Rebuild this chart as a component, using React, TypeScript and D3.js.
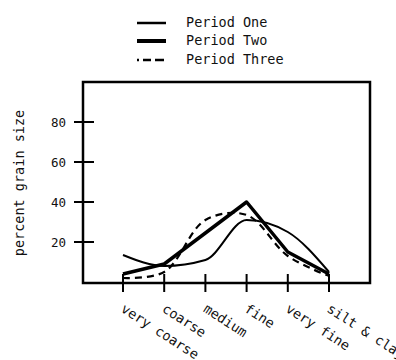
import React, { useEffect, useRef } from 'react';
import * as d3 from 'd3';

// grain size classes along the bottom
const categories = ['very coarse', 'coarse', 'medium', 'fine', 'very fine', 'silt & clay'];

// percent grain size per period
const periodOne = [13.5, 8, 11, 31, 25, 5];
const periodTwo = [4, 9, 24.5, 40, 15, 4];
const periodThree = [2, 5, 31, 33.5, 13, 3];

const yTicks = [20, 40, 60, 80];
const legendLabels = ['Period One', 'Period Two', 'Period Three'];

const FONT = '"DejaVu Sans Mono", monospace';

export default function App() {
    const ref = useRef<SVGSVGElement>(null);

    useEffect(() => {
        const svg = d3.select(ref.current);
        svg.selectAll('*').remove();

        const left = 83, right = 370, top = 82, bottom = 282;

        const x = d3.scalePoint<string>()
            .domain(categories)
            .range([123, 329]);

        const y = d3.scaleLinear()
            .domain([0, 100])
            .range([bottom, top]);

        // frame
        svg.append('rect')
            .attr('x', left)
            .attr('y', top)
            .attr('width', right - left)
            .attr('height', bottom - top + 1)
            .attr('fill', 'none')
            .attr('stroke', '#000')
            .attr('stroke-width', 2.5);

        // y ticks, crossing the axis
        const yg = svg.append('g');
        yg.selectAll('line')
            .data(yTicks)
            .enter()
            .append('line')
            .attr('x1', left - 9)
            .attr('x2', left + 11)
            .attr('y1', d => y(d))
            .attr('y2', d => y(d))
            .attr('stroke', '#000')
            .attr('stroke-width', 2);
        yg.selectAll('text')
            .data(yTicks)
            .enter()
            .append('text')
            .attr('x', 66)
            .attr('y', d => y(d) + 5)
            .attr('text-anchor', 'end')
            .attr('font-family', FONT)
            .attr('font-size', 12.5)
            .attr('fill', '#111')
            .text(d => d);

        // y title
        svg.append('text')
            .attr('transform', 'translate(24, 183) rotate(-90)')
            .attr('text-anchor', 'middle')
            .attr('font-family', FONT)
            .attr('font-size', 13.5)
            .attr('fill', '#111')
            .text('percent grain size');

        // x ticks
        const xg = svg.append('g');
        xg.selectAll('line')
            .data(categories)
            .enter()
            .append('line')
            .attr('x1', d => x(d)!)
            .attr('x2', d => x(d)!)
            .attr('y1', bottom - 8)
            .attr('y2', bottom + 10)
            .attr('stroke', '#000')
            .attr('stroke-width', 2);
        xg.selectAll('text')
            .data(categories)
            .enter()
            .append('text')
            .attr('transform', d => 'translate(' + (x(d)! - 3) + ', 311) rotate(33)')
            .attr('font-family', FONT)
            .attr('font-size', 13.5)
            .attr('fill', '#111')
            .text(d => d);

        // lines: thin one is a smooth curve, the other two are drawn more angular
        const smooth = d3.line<number>()
            .x((d, i) => x(categories[i])!)
            .y(d => y(d))
            .curve(d3.curveMonotoneX);
        const angular = d3.line<number>()
            .x((d, i) => x(categories[i])!)
            .y(d => y(d))
            .curve(d3.curveCatmullRom.alpha(0.5));

        const series = [
            { values: periodOne, width: 2, dash: null, gen: smooth },
            { values: periodTwo, width: 3.5, dash: null, gen: d3.line<number>().x((d, i) => x(categories[i])!).y(d => y(d)) },
            { values: periodThree, width: 2.2, dash: '7,5', gen: angular }
        ];

        svg.selectAll('.series')
            .data(series)
            .enter()
            .append('path')
            .attr('class', 'series')
            .attr('d', d => d.gen(d.values))
            .attr('fill', 'none')
            .attr('stroke', '#000')
            .attr('stroke-width', d => d.width)
            .attr('stroke-linejoin', 'round')
            .attr('stroke-dasharray', d => d.dash);

        // legend
        const lg = svg.append('g');
        const legendY = [23, 41, 60];
        lg.selectAll('line')
            .data(series)
            .enter()
            .append('line')
            .attr('x1', 137)
            .attr('x2', 166)
            .attr('y1', (d, i) => legendY[i])
            .attr('y2', (d, i) => legendY[i])
            .attr('stroke', '#000')
            .attr('stroke-width', (d, i) => i === 1 ? 4 : 2.5)
            .attr('stroke-dasharray', d => d.dash ? '2,4,8,4,9' : null);
        lg.selectAll('text')
            .data(legendLabels)
            .enter()
            .append('text')
            .attr('x', 186)
            .attr('y', (d, i) => legendY[i] + 4)
            .attr('font-family', FONT)
            .attr('font-size', 13.5)
            .attr('fill', '#111')
            .text(d => d);
    }, []);

    return (
        <div style={{ position: 'absolute', left: 0, top: 0 }}>
            <svg ref={ref} width={396} height={360} style={{ display: 'block', background: '#fff' }} />
        </div>
    );
}
